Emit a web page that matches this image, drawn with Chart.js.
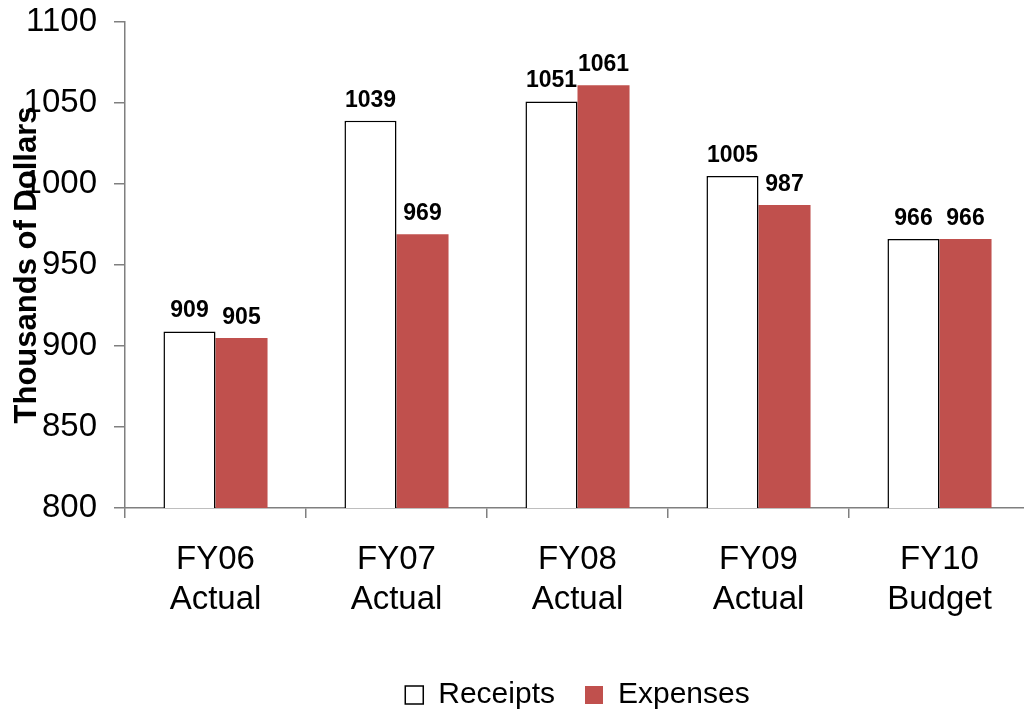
<!DOCTYPE html>
<html>
<head>
  <meta charset="UTF-8" />
  <title>Receipts and Expenses</title>
  <script src="https://cdn.jsdelivr.net/npm/chart.js"></script>
  <style>
    html, body { margin: 0; padding: 0; background: #fff; overflow: hidden; }
    #wrap { width: 1040px; height: 720px; }
  </style>
</head>
<body>
<div id="wrap"><canvas id="budgetChart" width="1040" height="720"></canvas></div>

<script>
  // data
  const categories = [['FY06', 'Actual'], ['FY07', 'Actual'], ['FY08', 'Actual'], ['FY09', 'Actual'], ['FY10', 'Budget']];
  const receipts = [909, 1039, 1051, 1005, 966];
  const expenses = [905, 969, 1061, 987, 966];
  const yTicks = [800, 850, 900, 950, 1000, 1050, 1100];

  const FONT = '"Liberation Sans", Arial, sans-serif';
  const AXIS_GREY = '#7f7f7f';

  // value labels above every bar
  const barLabels = {
    id: 'barLabels',
    afterDatasetsDraw(chart) {
      const ctx = chart.ctx;
      ctx.save();
      ctx.font = 'bold 23px ' + FONT;
      ctx.fillStyle = '#000';
      ctx.textAlign = 'center';
      ctx.textBaseline = 'alphabetic';
      chart.data.datasets.forEach((ds, i) => {
        chart.getDatasetMeta(i).data.forEach((bar, j) => {
          ctx.fillText(ds.data[j], bar.x, bar.y - 14);
        });
      });
      ctx.restore();
    }
  };

  const ctx = document.getElementById('budgetChart').getContext('2d');
  const myChart = new Chart(ctx, {
    type: 'bar',
    data: {
      labels: categories,
      datasets: [
        {
          label: 'Receipts',
          data: receipts,
          backgroundColor: '#ffffff',
          borderColor: '#000000',
          borderWidth: 1.5,
          borderSkipped: false
        },
        {
          label: 'Expenses',
          data: expenses,
          backgroundColor: '#c0504d',
          borderWidth: 0
        }
      ]
    },
    options: {
      responsive: false,
      animation: false,
      devicePixelRatio: 1,
      categoryPercentage: 0.575,
      barPercentage: 1.0,
      layout: { padding: { top: 22, right: 10, left: 0, bottom: 0 } },
      scales: {
        x: {
          grid: { drawOnChartArea: false, drawTicks: true, tickLength: 10, color: AXIS_GREY, lineWidth: 1.5 },
          border: { color: AXIS_GREY, width: 1.5 },
          ticks: { color: '#000', padding: 21, font: { family: FONT, size: 33, lineHeight: 1.24 } },
          afterFit(scale) { scale.height = 142; }
        },
        y: {
          min: 800,
          max: 1100,
          afterBuildTicks(scale) { scale.ticks = yTicks.map(v => ({ value: v })); },
          grid: { drawOnChartArea: false, drawTicks: true, tickLength: 11, color: AXIS_GREY, lineWidth: 1.5 },
          border: { color: AXIS_GREY, width: 1.5 },
          ticks: {
            color: '#000',
            padding: 17,
            font: { family: FONT, size: 33 },
            callback: (v) => String(v)
          },
          title: {
            display: true,
            text: 'Thousands of Dollars',
            color: '#000',
            padding: { top: 9, bottom: 0 },
            font: { family: FONT, size: 31, weight: 'bold' }
          },
          afterFit(scale) {
            scale.width = 125;
            scale.paddingTop = 0;
            scale.paddingBottom = 0;
          }
        }
      },
      plugins: {
        legend: {
          position: 'bottom',
          fullSize: false,
          labels: {
            color: '#000',
            boxWidth: 18,
            boxHeight: 18,
            padding: 30,
            font: { family: FONT, size: 30 }
          }
        },
        tooltip: { enabled: false }
      }
    },
    plugins: [barLabels]
  });
</script>

</body>
</html>
